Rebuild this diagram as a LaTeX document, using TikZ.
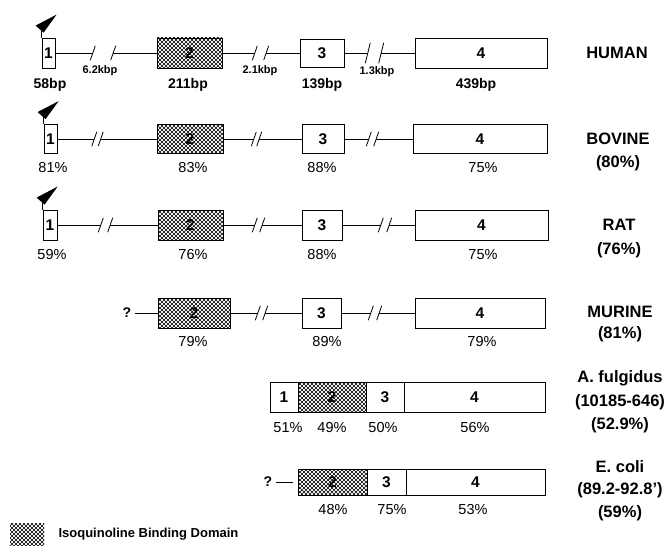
\documentclass[tikz,border=0pt]{standalone}
\usepackage{fontspec}
\setmainfont{Liberation Sans}
\usepackage{tikz}
\usetikzlibrary{patterns}

\pgfdeclarepatternformonly{xhatch}{\pgfpoint{-0.5pt}{-0.5pt}}{\pgfpoint{4.5pt}{4.5pt}}{\pgfpoint{4pt}{4pt}}{%
  \pgfsetlinewidth{0.5pt}
  \pgfpathmoveto{\pgfpoint{0pt}{0pt}}\pgfpathlineto{\pgfpoint{4pt}{4pt}}
  \pgfpathmoveto{\pgfpoint{0pt}{4pt}}\pgfpathlineto{\pgfpoint{4pt}{0pt}}
  \pgfusepath{stroke}}

\begin{document}
\begin{tikzpicture}[x=1pt,y=-1pt,
  exon/.style={draw,line width=0.8pt,inner sep=0pt,minimum height=30pt,font=\bfseries\fontsize{15.5}{17}\selectfont},
  bind/.style={exon,pattern=xhatch},
  brk/.style={inner sep=0pt,minimum height=14pt},
  link/.style={line width=0.8pt},
  bp/.style={font=\bfseries\fontsize{14}{16}\selectfont},
  kbp/.style={font=\bfseries\fontsize{11}{13}\selectfont},
  pct/.style={font=\fontsize{14.5}{16}\selectfont},
  spec/.style={font=\bfseries\fontsize{16.5}{19}\selectfont}]
\useasboundingbox (0,0) rectangle (671,548);
% human
\node (h1) at (48.5,53) [exon,minimum width=13pt] {1};
\node (h2) at (189.5,53) [bind,minimum width=65pt] {2};
\node (h3) at (322,53) [exon,minimum width=44pt,minimum height=28pt] {3};
\node (h4) at (481,53) [exon,minimum width=132pt] {4};
\node (hc1) at (103,53) [brk,minimum width=20pt] {};
\node (hc2) at (260.5,53) [brk,minimum width=11pt] {};
\node (hc3) at (374.5,53) [brk,minimum width=13pt,minimum height=20pt] {};
\node (hl1) at (50,85) [bp] {58bp};
\node (hl2) at (188,85) [bp] {211bp};
\node (hl3) at (322,85) [bp] {139bp};
\node (hl4) at (476,85) [bp] {439bp};
\node (hk1) at (100,71) [kbp] {6.2kbp};
\node (hk2) at (260,71) [kbp] {2.1kbp};
\node (hk3) at (377,72) [kbp] {1.3kbp};
\node (hn) at (617,53) [spec] {HUMAN};
%
\draw [link] (h1) edge (hc1);
\draw [link] (hc1) edge (h2);
\draw [link] (h2) edge (hc2);
\draw [link] (hc2) edge (h3);
\draw [link] (h3) edge (hc3);
\draw [link] (hc3) edge (h4);
%% bovine
\node (b1) at (50.5,139) [exon,minimum width=13pt,minimum height=29pt] {1};
\node (b2) at (190,139) [bind,minimum width=66pt,minimum height=29pt] {2};
\node (b3) at (323,139) [exon,minimum width=42pt,minimum height=29pt] {3};
\node (b4) at (480,139) [exon,minimum width=134pt,minimum height=29pt] {4};
\node (bc1) at (97.5,139) [brk,minimum width=6pt] {};
\node (bc2) at (256.5,139) [brk,minimum width=5pt] {};
\node (bc3) at (372.5,139) [brk,minimum width=7pt] {};
\node (bp1) at (53,168) [pct] {81\%};
\node (bp2) at (193,168) [pct] {83\%};
\node (bp3) at (322,168) [pct] {88\%};
\node (bp4) at (483,168) [pct] {75\%};
\node (bn) at (618,139) [spec] {BOVINE};
\node (bs) at (618,163) [spec] {(80\%)};
%
\draw [link] (b1) edge (bc1);
\draw [link] (bc1) edge (b2);
\draw [link] (b2) edge (bc2);
\draw [link] (bc2) edge (b3);
\draw [link] (b3) edge (bc3);
\draw [link] (bc3) edge (b4);
%% rat
\node (r1) at (50,225) [exon,minimum width=14pt] {1};
\node (r2) at (190.5,225) [bind,minimum width=65pt] {2};
\node (r3) at (322,225) [exon,minimum width=40pt] {3};
\node (r4) at (481.5,225) [exon,minimum width=133pt] {4};
\node (rc1) at (105.5,225) [brk,minimum width=9pt] {};
\node (rc2) at (258.5,225) [brk,minimum width=7pt] {};
\node (rc3) at (385,225) [brk,minimum width=8pt] {};
\node (rp1) at (52,255) [pct] {59\%};
\node (rp2) at (193,255) [pct] {76\%};
\node (rp3) at (322,255) [pct] {88\%};
\node (rp4) at (483,255) [pct] {75\%};
\node (rn) at (619,225) [spec] {RAT};
\node (rs) at (619,250) [spec] {(76\%)};
%
\draw [link] (r1) edge (rc1);
\draw [link] (rc1) edge (r2);
\draw [link] (r2) edge (rc2);
\draw [link] (rc2) edge (r3);
\draw [link] (r3) edge (rc3);
\draw [link] (rc3) edge (r4);
%% murine
\node (mq) at (127,313) [bp] {?};
\node (m2) at (194,313) [bind,minimum width=72pt] {2};
\node (m3) at (321.5,313) [exon,minimum width=39pt] {3};
\node (m4) at (480,313) [exon,minimum width=130pt] {4};
\node (mc1) at (261.5,313) [brk,minimum width=7pt] {};
\node (mc2) at (375,313) [brk,minimum width=8pt] {};
\node (mp2) at (193,342) [pct] {79\%};
\node (mp3) at (327,342) [pct] {89\%};
\node (mp4) at (482,342) [pct] {79\%};
\node (mn) at (620,312) [spec] {MURINE};
\node (ms) at (620,334) [spec] {(81\%)};
%
\draw [link] (mq) edge (m2);
\draw [link] (m2) edge (mc1);
\draw [link] (mc1) edge (m3);
\draw [link] (m3) edge (mc2);
\draw [link] (mc2) edge (m4);
%% A. fulgidus
\node (a1) at (284,397) [exon,minimum width=28pt] {1};
\node (a2) at (332,397) [bind,minimum width=68pt] {2};
\node (a3) at (385,397) [exon,minimum width=38pt] {3};
\node (a4) at (474.5,397) [exon,minimum width=141pt] {4};
\node (ap1) at (288,428) [pct] {51\%};
\node (ap2) at (332,428) [pct] {49\%};
\node (ap3) at (383,428) [pct] {50\%};
\node (ap4) at (475,428) [pct] {56\%};
\node (an) at (620,378) [spec] {A. fulgidus};
\node (al) at (620,402) [spec] {(10185-646)};
\node (as) at (620,425) [spec] {(52.9\%)};
%% E. coli
\node (eq) at (268,482) [bp] {?};
\node (e2) at (332.5,482) [bind,minimum width=69pt,minimum height=26pt] {2};
\node (e3) at (386.5,482) [exon,minimum width=39pt,minimum height=26pt] {3};
\node (e4) at (475.5,482) [exon,minimum width=139pt,minimum height=26pt] {4};
\node (ep2) at (333,510) [pct] {48\%};
\node (ep3) at (392,510) [pct] {75\%};
\node (ep4) at (473,510) [pct] {53\%};
\node (en) at (620,467) [spec] {E. coli};
\node (el) at (620,490) [spec] {(89.2-92.8')};
\node (es) at (620,513) [spec] {(59\%)};
%
\draw [link] (eq) edge[shorten >=5pt] (e2);
%% break marks and start flags
\foreach \c in {hc1,hc2,hc3,bc1,bc2,bc3,rc1,rc2,rc3,mc1,mc2}
  \draw [link] ([xshift=-2.5pt]\c.south west) -- ([xshift=2.5pt]\c.north west)
               ([xshift=-2.5pt]\c.south east) -- ([xshift=2.5pt]\c.north east);
\foreach \n in {h1,b1,r1} {
  \draw [link] (\n.north west) -- ++(0,-7);
  \fill ([shift={(-6,-12)}]\n.north west) -- ++(21,-11) -- ++(-13,18) -- cycle;
}
%% key
\node (key) at (27,534) [pattern=xhatch,minimum width=34pt,minimum height=22pt,inner sep=0pt] {};
\node (keyl) at (55,534) [anchor=west,font=\bfseries\fontsize{13}{15}\selectfont] {Isoquinoline Binding Domain};
\end{tikzpicture}
\end{document}
